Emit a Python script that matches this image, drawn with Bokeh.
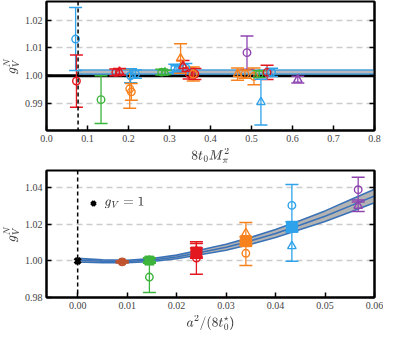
from bokeh.plotting import figure
from bokeh.layouts import column
from bokeh.models import (ColumnDataSource, LinearAxis, Range1d, Span, Label,
                          FixedTicker, NumeralTickFormatter, Legend, LegendItem)
from bokeh.embed import file_html
from bokeh.resources import INLINE

COLORS = {"blue": "#2ea2ea", "red": "#e3171f", "green": "#3db43c",
          "orange": "#f7821d", "purple": "#8e44b0", "brown": "#c0532e"}

# ---------------- top panel data: g_V^N vs 8 t0 Mpi^2 ----------------
top_circ_x = [0.071, 0.073, 0.133, 0.169, 0.203, 0.207, 0.205, 0.217, 0.281, 0.313,
              0.340, 0.348, 0.362, 0.358, 0.484, 0.489, 0.506, 0.519, 0.538, 0.549]
top_circ_y = [1.0132, 0.9981, 0.9914, 1.0012, 0.9953, 0.9942, 1.0000, 1.0006, 1.0013, 1.0026,
              1.0028, 1.0008, 1.0006, 1.0006, 1.0006, 1.0083, 0.9998, 1.0006, 1.0012, 1.0012]
top_circ_err = [0.0113, 0.0094, 0.0086, 0.0012, 0.0070, 0.0030, 0.0025, 0.0015, 0.0010, 0.0015,
                0.0016, 0.0020, 0.0020, 0.0025, 0.0015, 0.0060, 0.0030, 0.0012, 0.0026, 0.0015]
top_circ_col = ["blue", "red", "green", "red", "orange", "orange", "blue", "blue", "green", "blue",
                "blue", "red", "red", "orange", "orange", "purple", "orange", "green", "red", "blue"]

top_tri_x = [0.178, 0.289, 0.318, 0.327, 0.333, 0.466, 0.523, 0.613]
top_tri_y = [1.0014, 1.0012, 1.0024, 1.0062, 1.0035, 1.0006, 0.9905, 0.9986]
top_tri_err = [0.0012, 0.0008, 0.0012, 0.0053, 0.0020, 0.0022, 0.0082, 0.0012]
top_tri_col = ["red", "green", "blue", "orange", "red", "orange", "blue", "purple"]

phys_point = 0.077
top_band_x = [0.077, 0.8]
top_band_lo = [1.0006, 1.0006]
top_band_hi = [1.0021, 1.0021]

# ---------------- bottom panel data: g_V^N vs a^2/(8 t0*) ----------------
bot_sq_x = [0.0090, 0.0145, 0.0240, 0.0340, 0.0433]
bot_sq_y = [0.9995, 1.0002, 1.0046, 1.0108, 1.0187]
bot_sq_err = [0.0005, 0.0012, 0.0025, 0.0025, 0.0028]
bot_sq_col = ["brown", "green", "red", "orange", "blue"]
bot_sq_size = [6, 9, 11, 11, 11]

bot_circ_x = [0.0090, 0.0145, 0.0240, 0.0340, 0.0433, 0.0567]
bot_circ_y = [0.9995, 0.9912, 1.0016, 1.0042, 1.0304, 1.0390]
bot_circ_err = [0.0005, 0.0085, 0.0089, 0.0067, 0.0115, 0.0068]
bot_circ_col = ["brown", "green", "red", "orange", "blue", "purple"]

bot_tri_x = [0.0145, 0.0240, 0.0340, 0.0433, 0.0567]
bot_tri_y = [1.0003, 1.0055, 1.0152, 1.0081, 1.0302]
bot_tri_err = [0.0015, 0.0040, 0.0058, 0.0083, 0.0032]
bot_tri_col = ["green", "red", "orange", "blue", "purple"]

fit_x = [0.0, 0.005, 0.01, 0.015, 0.02, 0.025, 0.03, 0.035, 0.04, 0.045, 0.05, 0.055, 0.06]
fit_c = [1.0004, 0.9998, 0.9997, 1.0005, 1.0022, 1.0048, 1.0075, 1.0110, 1.0150, 1.0197,
         1.0245, 1.0300, 1.0355]
fit_hw = [0.0010, 0.0008, 0.0007, 0.0008, 0.0010, 0.0013, 0.0016, 0.0019, 0.0022, 0.0025,
          0.0029, 0.0033, 0.0037]

constraint_x = [0.0]
constraint_y = [1.0]
legend_text = "$$g_V = 1$$"

SERIF = "Liberation Serif"


def make_fig(height, xr, yr, xticks, yticks, xfmt, yfmt, xlabel, btop, bbot):
    p = figure(width=383, height=height, x_range=xr, y_range=yr,
               output_backend="svg", toolbar_location=None,
               min_border_left=42, min_border_right=9,
               min_border_top=btop, min_border_bottom=bbot)
    p.outline_line_color = "black"
    p.outline_line_width = 2
    p.xgrid.visible = False
    p.ygrid.grid_line_color = "#cccccc"
    p.ygrid.grid_line_dash = "6 4"
    p.ygrid.grid_line_width = 1.3
    p.xaxis.ticker = FixedTicker(ticks=xticks)
    p.yaxis.ticker = FixedTicker(ticks=yticks)
    p.xaxis.formatter = NumeralTickFormatter(format=xfmt)
    p.yaxis.formatter = NumeralTickFormatter(format=yfmt)
    right = LinearAxis(ticker=FixedTicker(ticks=yticks))
    p.add_layout(right, "right")
    for ax in [p.xaxis[0], p.yaxis[0], right]:
        ax.major_tick_in = 5
        ax.major_tick_out = 0
        ax.major_tick_line_width = 1.5
        ax.minor_tick_line_color = None
        ax.axis_line_width = 2
        ax.major_label_text_font = SERIF
        ax.major_label_text_font_size = "10px"
        ax.major_label_standoff = 4
        ax.axis_label_text_font = SERIF
        ax.axis_label_text_font_size = "12px"
        ax.axis_label_text_font_style = "normal"
        ax.axis_label_standoff = 3
    right.major_label_text_font_size = "0px"
    right.major_label_text_color = None
    right.major_label_standoff = 0
    p.xaxis[0].axis_label = xlabel
    p.yaxis[0].axis_label = "$$g_V^N$$"
    return p


def errbars(p, xs, ys, errs, cols, cap):
    src = ColumnDataSource(dict(
        x=xs, y=ys, lo=[y - e for y, e in zip(ys, errs)], hi=[y + e for y, e in zip(ys, errs)],
        c=[COLORS[c] for c in cols]))
    p.segment(x0="x", y0="lo", x1="x", y1="hi", line_color="c", line_width=1.3, source=src)
    p.scatter(x="x", y="lo", marker="dash", size=cap, line_color="c", line_width=1.5, source=src)
    p.scatter(x="x", y="hi", marker="dash", size=cap, line_color="c", line_width=1.5, source=src)
    return src


# ---------------- top ----------------
p1 = make_fig(167, Range1d(0, 0.8), Range1d(0.9803, 1.0267),
              [0.0, 0.1, 0.2, 0.3, 0.4, 0.5, 0.6, 0.7, 0.8], [0.99, 1.00, 1.01, 1.02],
              "0.0", "0.00", "$$8t_0M_\\pi^2$$", 1, 37)
p1.add_layout(Span(location=1.0, dimension="width", line_color="black", line_width=3,
                   level="underlay"))
p1.varea(x=top_band_x, y1=top_band_lo, y2=top_band_hi, fill_color="#b9b9b9")
p1.line(x=top_band_x, y=top_band_lo, line_color="#4a9fe0", line_width=1.5)
p1.line(x=top_band_x, y=top_band_hi, line_color="#4a9fe0", line_width=1.5)
p1.add_layout(Span(location=phys_point, dimension="height", line_color="black",
                   line_width=1.5, line_dash="4 3"))
s = errbars(p1, top_circ_x, top_circ_y, top_circ_err, top_circ_col, 13)
p1.scatter(x="x", y="y", marker="circle", size=7.5, fill_color=None, line_color="c",
           line_width=1.4, source=s)
s = errbars(p1, top_tri_x, top_tri_y, top_tri_err, top_tri_col, 13)
p1.scatter(x="x", y="y", marker="triangle", size=8.5, fill_color=None, line_color="c",
           line_width=1.4, source=s)

# ---------------- bottom ----------------
p2 = make_fig(166, Range1d(-0.0063, 0.06), Range1d(0.98, 1.0495),
              [0.0, 0.01, 0.02, 0.03, 0.04, 0.05, 0.06], [0.98, 1.00, 1.02, 1.04],
              "0.00", "0.00", "$$a^2/(8t_0^\\star)$$", 3, 34)
p2.add_layout(Span(location=0.0, dimension="height", line_color="black",
                   line_width=1.5, line_dash="4 3"))
fit_lo = [c - h for c, h in zip(fit_c, fit_hw)]
fit_hi = [c + h for c, h in zip(fit_c, fit_hw)]
p2.varea(x=fit_x, y1=fit_lo, y2=fit_hi, fill_color="#b3b3b3")
for ys in (fit_lo, fit_c, fit_hi):
    p2.line(x=fit_x, y=ys, line_color="#3a72b8", line_width=1.6)

s = errbars(p2, bot_circ_x, bot_circ_y, bot_circ_err, bot_circ_col, 13)
p2.scatter(x="x", y="y", marker="circle", size=7.5, fill_color=None, line_color="c",
           line_width=1.4, source=s)
s = errbars(p2, bot_tri_x, bot_tri_y, bot_tri_err, bot_tri_col, 13)
p2.scatter(x="x", y="y", marker="triangle", size=8.5, fill_color=None, line_color="c",
           line_width=1.4, source=s)
s = errbars(p2, bot_sq_x, bot_sq_y, bot_sq_err, bot_sq_col, 13)
s.data["sz"] = bot_sq_size
p2.scatter(x="x", y="y", marker="square", size="sz", fill_color="c", line_color="c",
           line_width=1, source=s)
cr = p2.scatter(x=constraint_x, y=constraint_y, marker="x", size=8, line_color="black",
                line_width=3.5)
leg = Legend(items=[LegendItem(label=" ", renderers=[cr])], location=(40, 84),
             border_line_color=None, background_fill_alpha=0, label_text_font=SERIF,
             label_text_font_size="12px",
             margin=0, padding=4, glyph_width=14, label_standoff=4)
p2.add_layout(leg)
p2.add_layout(Label(x=58, y=94, x_units="screen", y_units="screen", text=legend_text,
                    text_font=SERIF, text_font_size="12px", text_baseline="middle"))

layout = column(p1, p2, spacing=0)
open("out.html", "w").write(file_html(layout, INLINE))
